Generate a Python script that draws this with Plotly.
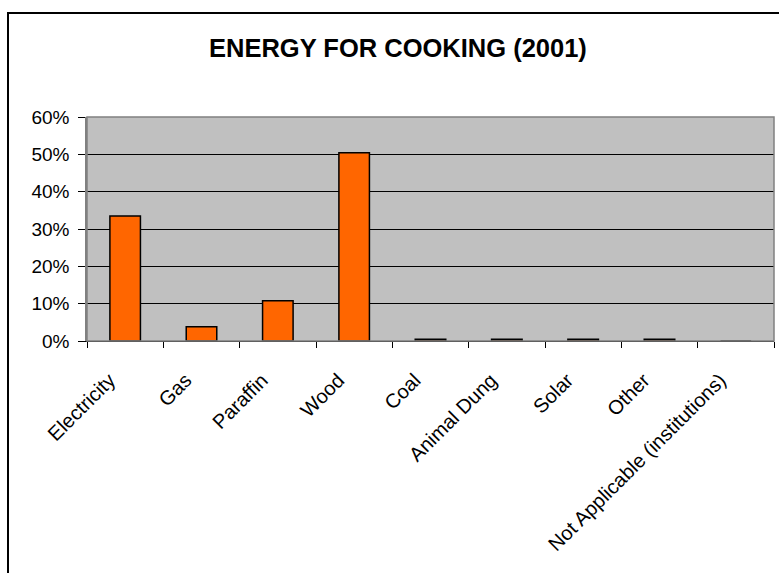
import plotly.graph_objects as go

# Share of households by main energy source used for cooking
categories = ["Electricity", "Gas", "Paraffin", "Wood", "Coal", "Animal Dung",
              "Solar", "Other", "Not Applicable (institutions)"]
shares = [0.335, 0.038, 0.108, 0.504, 0.005, 0.005, 0.005, 0.005, 0.0]
y_ticks = [0, 0.1, 0.2, 0.3, 0.4, 0.5, 0.6]
title_text = "ENERGY FOR COOKING (2001)"

W, H = 779, 573
L, R, T, B = 87, 5, 117, 232
plot_w = W - L - R
plot_h = H - T - B


def px_x(px):
    return (px - L) / plot_w


def px_y(py):
    return (H - B - py) / plot_h


font_family = "Liberation Sans, Arial, sans-serif"

# trailing no-break spaces nudge the slanted labels down-left of their ticks
label_pad = "\u00a0" * 4
tick_text = [c + label_pad for c in categories]

fig = go.Figure(
    go.Bar(
        x=categories,
        y=shares,
        width=0.4,
        marker=dict(color="#FF6600", line=dict(color="#000000", width=1.5)),
        hoverinfo="x+y",
    )
)

fig.update_layout(
    width=W,
    height=H,
    margin=dict(l=L, r=R, t=T, b=B, pad=0),
    paper_bgcolor="#FFFFFF",
    plot_bgcolor="#C0C0C0",
    showlegend=False,
    font=dict(family=font_family, color="#000000", size=19),
    bargap=0.6,
)

fig.update_xaxes(
    type="category",
    range=[-0.5, len(categories) - 0.5],
    tickmode="array",
    tickvals=categories,
    ticktext=tick_text,
    tickangle=-45,
    tickson="boundaries",
    ticks="outside",
    ticklen=6,
    tickcolor="#000000",
    tickwidth=1,
    ticklabelstandoff=3,
    showline=True,
    linecolor="#000000",
    linewidth=1,
    showgrid=False,
    tickfont=dict(size=20),
)

fig.update_yaxes(
    range=[0, 0.6],
    tickvals=y_ticks,
    tickformat=".0%",
    ticks="outside",
    ticklen=7,
    tickcolor="#000000",
    ticklabelstandoff=5,
    showline=True,
    linecolor="#808080",
    linewidth=1.5,
    showgrid=True,
    gridcolor="#000000",
    gridwidth=1,
    zeroline=False,
    tickfont=dict(size=19),
)

# plot-area border and outer chart frame
fig.add_shape(type="rect", xref="paper", yref="paper", x0=0, x1=1, y0=0, y1=1,
              line=dict(color="#808080", width=1.5), layer="above")
fig.add_shape(type="rect", xref="paper", yref="paper",
              x0=px_x(8), x1=px_x(W + 20), y0=px_y(H + 20), y1=px_y(13),
              line=dict(color="#000000", width=2))

fig.add_annotation(
    text="<b>%s</b>" % title_text,
    xref="paper", yref="paper",
    x=px_x(397.5), y=px_y(48),
    xanchor="center", yanchor="middle",
    showarrow=False,
    font=dict(family=font_family, size=25.5, color="#000000"),
)

fig.write_html("out.html")
